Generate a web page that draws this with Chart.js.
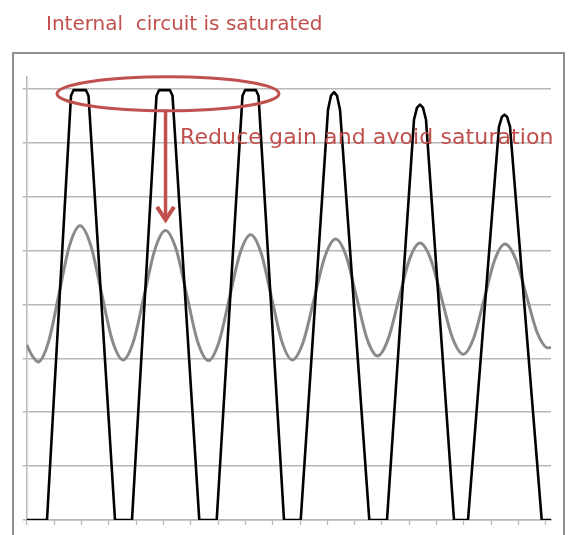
<!DOCTYPE html>
<html>
<head>
<meta charset="utf-8">
<script src="https://cdn.jsdelivr.net/npm/chart.js@4/dist/chart.umd.min.js"></script>
<style>
  html, body { margin: 0; padding: 0; background: #fff; overflow: hidden; }
  #wrap { position: relative; width: 569px; height: 535px; }
  #frame { position: absolute; left: 12px; top: 52px; width: 553px; height: 540px; border: 2px solid #8f8f8f; box-sizing: border-box; }
  #logChart { position: absolute; left: 0; top: 0; }
  .note { position: absolute; color: #c0504d; white-space: pre; line-height: normal; font-family: "DejaVu Sans", Verdana, sans-serif; }
  #title { left: 46px; top: 11px; font-size: 20px; }
  #hint { left: 180px; top: 124px; font-size: 22px; letter-spacing: 0.1px; }
</style>
</head>
<body>
<div id="wrap">
  <div id="frame"></div>
  <canvas id="logChart" width="569" height="535"></canvas>
  <div class="note" id="title">Internal  circuit is saturated</div>
  <div class="note" id="hint">Reduce gain and avoid saturation</div>
</div>
<script>
// saturated output (black)
const blackX = [0, 0.743, 1.621, 1.712, 2.170, 2.261, 3.231, 3.853, 4.749, 4.841, 5.243, 5.335,
  6.315, 6.952, 7.896, 7.988, 8.390, 8.481, 9.415, 10.026, 11.025, 11.134, 11.244, 11.354, 11.464,
  12.536, 13.183, 14.171, 14.281, 14.391, 14.500, 14.610, 15.635, 16.147, 17.281, 17.391, 17.483,
  17.574, 17.684, 18.844, 19.184];
const blackY = [-4, -4, 3.874, 3.976, 3.976, 3.874, -4, -4, 3.874, 3.976, 3.976, 3.874,
  -4, -4, 3.874, 3.976, 3.976, 3.874, -4, -4, 3.614, 3.874, 3.939, 3.874, 3.614,
  -4, -4, 3.428, 3.651, 3.707, 3.651, 3.428, -4, -4, 3.298, 3.484, 3.521,
  3.484, 3.298, -4, -4];

// reduced gain output (gray)
const grayX = [0, 0.194, 0.413, 0.798, 1.182, 1.566, 1.950, 2.344, 2.737, 3.130, 3.524, 3.911,
  4.301, 4.691, 5.079, 5.470, 5.862, 6.253, 6.645, 7.033, 7.420, 7.808, 8.196, 8.577, 8.957,
  9.338, 9.718, 10.115, 10.512, 10.909, 11.306, 11.689, 12.071, 12.453, 12.836, 13.223, 13.613,
  14.003, 14.391, 14.786, 15.183, 15.580, 15.975, 16.356, 16.738, 17.120, 17.501, 17.894, 18.288,
  18.681, 19.074, 19.184];
const grayY = [-0.750, -0.945, -1.066, -0.696, 0.197, 1.090, 1.460, 1.096, 0.215, -0.665, -1.029, -0.678,
  0.172, 1.021, 1.372, 1.019, 0.165, -0.689, -1.042, -0.700, 0.125, 0.951, 1.292, 0.953, 0.132,
  -0.690, -1.029, -0.702, 0.092, 0.886, 1.213, 0.897, 0.129, -0.639, -0.955, -0.648, 0.092,
  0.832, 1.138, 0.837, 0.108, -0.622, -0.923, -0.624, 0.098, 0.821, 1.120, 0.839, 0.157,
  -0.526, -0.806, -0.798];

const xMin = 0, xMax = 19.184;
const yMin = -4, yMax = 4.226;

document.addEventListener('DOMContentLoaded', function () {
  const ctx = document.getElementById('logChart').getContext('2d');
  const red = '#c0504d';
  const gridGray = '#b8b8b8';

  // ring round the clipped peaks and the arrow down to the gray peak
  const notes = {
    id: 'notes',
    afterDatasetsDraw(chart) {
      const { ctx, scales: { x, y } } = chart;
      ctx.save();
      ctx.strokeStyle = red;
      ctx.lineWidth = 3;
      ctx.beginPath();
      ctx.ellipse(x.getPixelForValue(5.17), y.getPixelForValue(3.911), 111, 17, 0, 0, Math.PI * 2);
      ctx.stroke();

      const ax = x.getPixelForValue(5.08);
      const top = y.getPixelForValue(3.611);
      const tip = y.getPixelForValue(1.515);
      ctx.lineWidth = 3.5;
      ctx.beginPath();
      ctx.moveTo(ax, top);
      ctx.lineTo(ax, tip - 4);
      ctx.stroke();
      ctx.lineWidth = 4;
      ctx.lineJoin = 'miter';
      ctx.beginPath();
      ctx.moveTo(ax - 8.5, tip - 16);
      ctx.lineTo(ax, tip - 3);
      ctx.lineTo(ax + 8.5, tip - 16);
      ctx.stroke();
      ctx.restore();
    }
  };

  new Chart(ctx, {
    type: 'line',
    data: {
      datasets: [{
        data: blackX.map((x, i) => ({ x, y: blackY[i] })),
        borderColor: '#000',
        borderWidth: 2.6,
        borderJoinStyle: 'round',
        tension: 0
      }, {
        data: grayX.map((x, i) => ({ x, y: grayY[i] })),
        borderColor: '#8a8a8a',
        borderWidth: 3,
        cubicInterpolationMode: 'monotone'
      }]
    },
    options: {
      responsive: false,
      animation: false,
      layout: { padding: { left: 22.7, right: 18, top: 76.7, bottom: 10 } },
      plugins: { legend: { display: false }, tooltip: { enabled: false } },
      elements: { point: { radius: 0 } },
      scales: {
        x: {
          type: 'linear', min: xMin, max: xMax,
          ticks: { display: false, stepSize: 1, includeBounds: false },
          grid: { drawOnChartArea: false, drawTicks: true, tickLength: 5, tickColor: gridGray, tickWidth: 1.3 },
          border: { color: gridGray, width: 1.5 }
        },
        y: {
          min: yMin, max: yMax,
          ticks: { display: false, stepSize: 1, includeBounds: false },
          grid: { color: gridGray, lineWidth: 1.5, tickLength: 4 },
          border: { color: gridGray, width: 1.5 }
        }
      }
    },
    plugins: [notes]
  });
});
</script>
</body>
</html>
